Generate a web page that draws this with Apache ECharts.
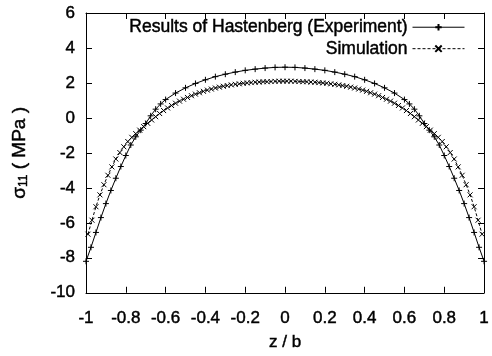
<!DOCTYPE html>
<html>
<head>
<meta charset="utf-8">
<script src="https://cdn.jsdelivr.net/npm/echarts@6/dist/echarts.min.js"></script>
<style>
  html, body { margin: 0; padding: 0; background: #fff; }
  #chart { width: 492px; height: 356px; }
</style>
</head>
<body>
<div id="chart"></div>
<script>
// Normalised position z / b for the measured profile
const zExperiment = [
  -1, -0.975, -0.95, -0.925, -0.9, -0.875, -0.85, -0.825, -0.8, -0.775,
  -0.75, -0.725, -0.7, -0.675, -0.65, -0.625, -0.6, -0.55, -0.5, -0.45,
  -0.4, -0.35, -0.3, -0.25, -0.2, -0.15, -0.1, -0.05, 0,
  0.05, 0.1, 0.15, 0.2, 0.25, 0.3, 0.35, 0.4, 0.45, 0.5, 0.55, 0.6,
  0.625, 0.65, 0.675, 0.7, 0.725, 0.75, 0.775, 0.8, 0.825, 0.85, 0.875,
  0.9, 0.925, 0.95, 0.975, 1
];
// sigma_11 in MPa, measured (Hastenberg)
const sigmaExperiment = [
  -8.20, -7.40, -6.55, -5.70, -4.90, -4.15, -3.45, -2.78, -2.15, -1.55,
  -1.08, -0.70, -0.32, 0.12, 0.50, 0.80, 1.05, 1.42, 1.72, 1.97,
  2.18, 2.36, 2.50, 2.62, 2.72, 2.79, 2.85, 2.89, 2.90,
  2.89, 2.85, 2.79, 2.72, 2.62, 2.50, 2.36, 2.18, 1.97, 1.72, 1.42, 1.05,
  0.80, 0.50, 0.12, -0.32, -0.70, -1.08, -1.55, -2.15, -2.78, -3.45, -4.15,
  -4.90, -5.70, -6.55, -7.40, -8.20
];

// Normalised position z / b for the simulated profile
const zSimulation = [
  -0.99, -0.97, -0.95, -0.93, -0.91, -0.89, -0.87, -0.85, -0.83, -0.81,
  -0.79, -0.77, -0.75, -0.73, -0.71, -0.69, -0.67, -0.65, -0.63, -0.61,
  -0.59, -0.57, -0.55, -0.53, -0.51, -0.49, -0.47, -0.45, -0.43, -0.41,
  -0.39, -0.37, -0.35, -0.33, -0.31, -0.29, -0.27, -0.25, -0.23, -0.21,
  -0.19, -0.17, -0.15, -0.13, -0.11, -0.09, -0.07, -0.05, -0.03, -0.01,
  0.01, 0.03, 0.05, 0.07, 0.09, 0.11, 0.13, 0.15, 0.17, 0.19,
  0.21, 0.23, 0.25, 0.27, 0.29, 0.31, 0.33, 0.35, 0.37, 0.39,
  0.41, 0.43, 0.45, 0.47, 0.49, 0.51, 0.53, 0.55, 0.57, 0.59,
  0.61, 0.63, 0.65, 0.67, 0.69, 0.71, 0.73, 0.75, 0.77, 0.79,
  0.81, 0.83, 0.85, 0.87, 0.89, 0.91, 0.93, 0.95, 0.97, 0.99
];
// sigma_11 in MPa, simulation
const sigmaSimulation = [
  -6.65, -5.85, -5.08, -4.40, -3.82, -3.28, -2.80, -2.35, -1.98, -1.65,
  -1.35, -1.11, -0.90, -0.70, -0.50, -0.31, -0.12, 0.07, 0.25, 0.42,
  0.57, 0.71, 0.84, 0.96, 1.07, 1.17, 1.27, 1.36, 1.44, 1.52,
  1.59, 1.65, 1.71, 1.76, 1.81, 1.85, 1.89, 1.92, 1.95, 1.98,
  2.00, 2.02, 2.04, 2.05, 2.07, 2.07, 2.08, 2.09, 2.10, 2.10,
  2.10, 2.10, 2.09, 2.08, 2.07, 2.07, 2.05, 2.04, 2.02, 2.00,
  1.98, 1.95, 1.92, 1.89, 1.85, 1.81, 1.76, 1.71, 1.65, 1.59,
  1.52, 1.44, 1.36, 1.27, 1.17, 1.07, 0.96, 0.84, 0.71, 0.57,
  0.42, 0.25, 0.07, -0.12, -0.31, -0.50, -0.70, -0.90, -1.11, -1.35,
  -1.65, -1.98, -2.35, -2.80, -3.28, -3.82, -4.40, -5.08, -5.85, -6.65
];

const seriesNames = ['Results of Hastenberg (Experiment)', 'Simulation'];

// Marker shapes (stroked paths): plus and cross
const PLUS = 'path://M0,5L10,5M5,0L5,10';
const CROSS = 'path://M0,0L10,10M10,0L0,10';

const FONT = '"Liberation Sans", Arial, Helvetica, sans-serif';
const ink = '#000';

function pairs(xs, ys) { return xs.map((x, i) => [x, ys[i]]); }

const chart = echarts.init(document.getElementById('chart'), null, { renderer: 'canvas' });

const boxAxis = {
  axisLine: { show: true, onZero: false, lineStyle: { color: ink, width: 1 } },
  axisTick: { show: true, inside: true, length: 6, lineStyle: { color: ink, width: 1 } },
  splitLine: { show: false }
};

// Regular face, lightly outlined so the strokes read a little heavier
const textBase = { fontFamily: FONT, fontWeight: 'normal', color: ink, textBorderColor: ink, textBorderWidth: 0.45 };
const labelStyle = Object.assign({ fontSize: 17 }, textBase);

chart.setOption({
  animation: false,
  backgroundColor: '#fff',
  grid: { left: 86, right: 6, top: 13, bottom: 57, containLabel: false },
  legend: {
    data: seriesNames,
    orient: 'vertical',
    right: 27,
    top: 18,
    padding: 0,
    align: 'right',
    itemWidth: 52,
    itemHeight: 8,
    itemGap: 3,
    lineStyle: { width: 1 },
    textStyle: Object.assign({ fontSize: 17.5 }, textBase)
  },
  xAxis: [
    Object.assign({}, boxAxis, {
      type: 'value', position: 'bottom', min: -1, max: 1, interval: 0.2,
      name: 'z / b', nameLocation: 'middle', nameGap: 41,
      nameTextStyle: labelStyle,
      axisLabel: Object.assign({ margin: 17 }, labelStyle)
    }),
    Object.assign({}, boxAxis, {
      type: 'value', position: 'top', min: -1, max: 1, interval: 0.2,
      axisLabel: { show: false }
    })
  ],
  yAxis: [
    Object.assign({}, boxAxis, {
      type: 'value', position: 'left', min: -10, max: 6, interval: 2,
      name: '{s|σ}{sub|11}{s| ( MPa )}', nameLocation: 'middle', nameGap: 56,
      nameTextStyle: {
        rich: {
          s: Object.assign({ fontSize: 19 }, textBase),
          sub: Object.assign({ fontSize: 12, verticalAlign: 'bottom', padding: [9, 0, 0, 0] }, textBase)
        }
      },
      axisLabel: Object.assign({ margin: 11 }, labelStyle)
    }),
    Object.assign({}, boxAxis, {
      type: 'value', position: 'right', min: -10, max: 6, interval: 2,
      axisLabel: { show: false }
    })
  ],
  series: [
    {
      name: seriesNames[0],
      type: 'line',
      xAxisIndex: 0, yAxisIndex: 0,
      data: pairs(zExperiment, sigmaExperiment),
      symbol: PLUS,
      symbolSize: 6,
      showSymbol: true,
      showAllSymbol: true,
      lineStyle: { color: ink, width: 1, type: 'solid' },
      itemStyle: { color: ink, borderColor: ink, borderWidth: 1 }
    },
    {
      name: seriesNames[1],
      type: 'line',
      xAxisIndex: 0, yAxisIndex: 0,
      data: pairs(zSimulation, sigmaSimulation),
      symbol: CROSS,
      symbolSize: 5,
      showSymbol: true,
      showAllSymbol: true,
      lineStyle: { color: ink, width: 1, type: [3, 2] },
      itemStyle: { color: ink, borderColor: ink, borderWidth: 1 }
    }
  ]
});
</script>
</body>
</html>
